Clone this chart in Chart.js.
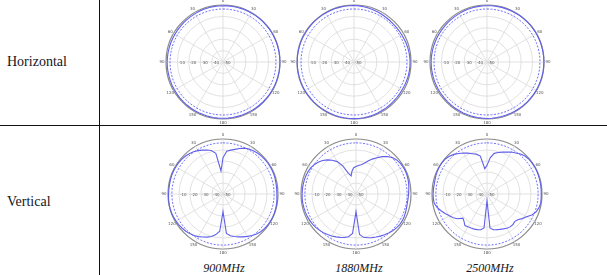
<!DOCTYPE html>
<html>
<head>
<meta charset="utf-8">
<script src="https://cdn.jsdelivr.net/npm/chart.js@4.4.1/dist/chart.umd.min.js"></script>
<style>
  html, body { margin: 0; padding: 0; background: #fff; }
  body { width: 607px; height: 275px; position: relative; overflow: hidden; font-family: "Liberation Serif", serif; }
  .vline { position: absolute; left: 99px; top: 0; width: 1px; height: 275px; background: #111; }
  .hline { position: absolute; left: 0; top: 125px; width: 607px; height: 1px; background: #111; }
  .row { position: absolute; left: 7px; font-size: 14px; color: #151520; line-height: 16px; }
  .freq { position: absolute; font-size: 12px; font-style: italic; color: #151520; line-height: 14px; transform: translateX(-50%); white-space: nowrap; }
  canvas { position: absolute; }
</style>
</head>
<body>
<div class="vline"></div>
<div class="hline"></div>
<div class="row" style="top:54px">Horizontal</div>
<div class="row" style="top:194px">Vertical</div>
<div class="freq" style="left:224px; top:261px">900MHz</div>
<div class="freq" style="left:359px; top:261px">1880MHz</div>
<div class="freq" style="left:490px; top:261px">2500MHz</div>

<canvas id="h900" width="130" height="130" style="left:158px; top:-3px"></canvas>
<canvas id="h1880" width="130" height="130" style="left:289px; top:-3px"></canvas>
<canvas id="h2500" width="130" height="130" style="left:422px; top:-3px"></canvas>
<canvas id="v900" width="126" height="126" style="left:160px; top:131px"></canvas>
<canvas id="v1880" width="126" height="126" style="left:293px; top:131px"></canvas>
<canvas id="v2500" width="126" height="126" style="left:424px; top:131px"></canvas>

<script>
// Angles (degrees, clockwise from top), 5 degree steps
const angles = ["0","5","10","15","20","25","30","35","40","45","50","55","60","65","70","75","80","85",
  "90","95","100","105","110","115","120","125","130","135","140","145","150","155","160","165","170","175",
  "180","185","190","195","200","205","210","215","220","225","230","235","240","245","250","255","260","265",
  "270","275","280","285","290","295","300","305","310","315","320","325","330","335","340","345","350","355"];

// Angle labels drawn every 30 degrees
const angleLabels = ["0","30","60","90","120","150","180","150","120","90","60","30"];
// Radial tick labels (dB)
const radialTicks = [-10, -20, -30, -40, -50];

// Reference (dashed) level in dB
const refLevel = [-3.5,-3.5,-3.5,-3.5,-3.5,-3.5,-3.5,-3.5,-3.5,-3.5,-3.5,-3.5,-3.5,-3.5,-3.5,-3.5,-3.5,-3.5,
  -3.5,-3.5,-3.5,-3.5,-3.5,-3.5,-3.5,-3.5,-3.5,-3.5,-3.5,-3.5,-3.5,-3.5,-3.5,-3.5,-3.5,-3.5,
  -3.5,-3.5,-3.5,-3.5,-3.5,-3.5,-3.5,-3.5,-3.5,-3.5,-3.5,-3.5,-3.5,-3.5,-3.5,-3.5,-3.5,-3.5,
  -3.5,-3.5,-3.5,-3.5,-3.5,-3.5,-3.5,-3.5,-3.5,-3.5,-3.5,-3.5,-3.5,-3.5,-3.5,-3.5,-3.5,-3.5];

// Horizontal-plane patterns (dB)
const h900 = [-0.6,-0.6,-0.5,-0.5,-0.4,-0.4,-0.3,-0.3,-0.2,-0.2,-0.2,-0.1,-0.1,-0.1,-0.1,-0.1,-0.1,-0.1,
  -0.1,-0.1,-0.1,-0.2,-0.2,-0.2,-0.3,-0.3,-0.4,-0.4,-0.5,-0.5,-0.5,-0.6,-0.6,-0.6,-0.6,-0.6,
  -0.6,-0.6,-0.6,-0.6,-0.7,-0.7,-0.7,-0.7,-0.7,-0.8,-0.8,-0.9,-0.9,-0.9,-1.0,-1.0,-1.0,-1.0,
  -1.0,-1.1,-1.1,-1.2,-1.2,-1.3,-1.3,-1.3,-1.3,-1.2,-1.2,-1.1,-1.0,-0.9,-0.8,-0.8,-0.7,-0.7];
const h1880 = [-0.5,-0.6,-0.8,-1.0,-1.2,-1.4,-1.6,-1.8,-1.9,-2.0,-2.0,-1.9,-1.8,-1.6,-1.4,-1.2,-1.0,-0.9,
  -0.8,-0.8,-0.8,-0.9,-1.0,-1.1,-1.2,-1.2,-1.2,-1.1,-1.0,-0.9,-0.8,-0.6,-0.5,-0.4,-0.3,-0.3,
  -0.3,-0.3,-0.3,-0.3,-0.3,-0.3,-0.3,-0.3,-0.3,-0.3,-0.3,-0.3,-0.2,-0.2,-0.2,-0.2,-0.2,-0.2,
  -0.2,-0.2,-0.2,-0.2,-0.2,-0.2,-0.3,-0.3,-0.3,-0.3,-0.3,-0.3,-0.3,-0.3,-0.3,-0.4,-0.4,-0.5];
const h2500 = [-0.6,-0.5,-0.5,-0.4,-0.4,-0.3,-0.3,-0.2,-0.2,-0.1,-0.1,-0.1,-0.1,-0.1,-0.1,-0.1,-0.1,-0.1,
  -0.1,-0.1,-0.1,-0.1,-0.2,-0.2,-0.2,-0.3,-0.3,-0.3,-0.4,-0.4,-0.4,-0.5,-0.5,-0.5,-0.5,-0.5,
  -0.5,-0.6,-0.6,-0.6,-0.7,-0.7,-0.8,-0.8,-0.9,-0.9,-1.0,-1.0,-1.0,-1.0,-1.0,-1.0,-1.0,-1.0,
  -1.0,-1.0,-1.1,-1.1,-1.2,-1.2,-1.3,-1.3,-1.3,-1.2,-1.2,-1.1,-1.0,-0.9,-0.8,-0.8,-0.7,-0.7];

// Vertical-plane patterns (dB)
const v900 = [-17,-11,-9.5,-8,-6,-4,-2.8,-2,-1.4,-1,-0.7,-0.5,-0.4,-0.4,-0.5,-0.7,-0.9,-1,
  -1,-0.8,-0.5,-0.3,-0.2,-0.2,-0.3,-0.5,-0.9,-1.5,-2.5,-4,-5.5,-7,-8.5,-10,-11.5,-14,
  -34,-16,-12.5,-10,-8.3,-6.8,-5.3,-4,-3,-2.2,-1.6,-1.1,-0.7,-0.4,-0.2,-0.1,-0.2,-0.3,
  -0.5,-0.6,-0.6,-0.5,-0.4,-0.4,-0.5,-0.7,-1,-1.5,-2.2,-3.2,-4.5,-6,-7.5,-9,-12.5,-29];
const v1880 = [-25,-24,-23,-21,-18,-15,-12,-8.5,-5.5,-3.2,-1.8,-1,-0.6,-0.5,-0.6,-0.9,-1.3,-1.8,
  -2.2,-2.5,-2.6,-2.4,-2,-1.6,-1.4,-1.5,-2,-2.8,-3.8,-4.8,-5.8,-6.8,-7.8,-8.8,-10,-13,
  -34,-14,-10.5,-9,-8,-7,-6,-5,-4,-3.2,-2.5,-2,-1.6,-1.3,-1.1,-1,-0.9,-0.9,
  -1,-1.1,-1.2,-1.3,-1.5,-1.9,-2.5,-3.5,-5,-7,-9.5,-12.5,-16,-22,-30,-33,-29,-26];
const v2500 = [-24,-17,-12.5,-11,-9.5,-8,-6,-4.5,-2.5,-1.2,-0.5,-0.3,-0.2,-0.2,-0.3,-0.4,-0.5,-0.6,
  -0.7,-0.6,-0.5,-1.2,-2.5,-5,-8.5,-11,-13.5,-14.5,-13.5,-13.5,-14,-15,-15.8,-16.5,-17,-19,
  -44,-19,-17,-16.5,-16,-15.8,-15.5,-15,-17.5,-19,-15,-12.5,-10.5,-8,-5.5,-3,-1.3,-1,
  -1,-1.1,-1.2,-1,-0.6,-0.3,-0.1,-0.2,-0.5,-1.5,-3,-5,-7,-9,-11,-12.5,-15,-27];

const polarText = {
  id: 'polarText',
  beforeDatasetsDraw(chart) {
    const s = chart.scales.r, ctx = chart.ctx;
    ctx.save();
    ctx.font = '4px "DejaVu Sans"';
    ctx.fillStyle = '#555';
    ctx.textAlign = 'center';
    ctx.textBaseline = 'middle';
    angleLabels.forEach((t, k) => {
      const p = s.getPointPosition(k * 6, s.drawingArea + 4);
      ctx.fillText(t, p.x, p.y);
    });
    ctx.textAlign = 'left';
    radialTicks.forEach(v => {
      const d = s.getDistanceFromCenterForValue(v);
      ctx.fillText(String(v), s.xCenter - d + 1, s.yCenter + 0.5);
    });
    ctx.restore();
  }
};

function makeChart(id, values) {
  new Chart(document.getElementById(id), {
    type: 'radar',
    data: {
      labels: angles,
      datasets: [
        { data: values, borderColor: '#6060ea', borderWidth: 1.1, pointRadius: 0, fill: false, tension: 0 },
        { data: refLevel, borderColor: '#4a4aff', borderWidth: 0.8, borderDash: [2, 1.5], pointRadius: 0, fill: false, tension: 0 }
      ]
    },
    options: {
      responsive: false,
      animation: false,
      devicePixelRatio: 1,
      layout: { padding: 8 },
      plugins: { legend: { display: false }, tooltip: { enabled: false } },
      scales: {
        r: {
          min: -50, max: 0,
          ticks: { display: false, stepSize: 10 },
          pointLabels: { display: false },
          grid: {
            circular: true,
            color: c => (c.tick && c.tick.value === 0) ? '#8a8a8a' : '#d9d9d9',
            lineWidth: c => (c.tick && c.tick.value === 0) ? 1.2 : 0.8
          },
          angleLines: {
            color: '#d9d9d9',
            lineWidth: c => (c.index % 6 === 0) ? 0.8 : 0
          }
        }
      }
    },
    plugins: [polarText]
  });
}

makeChart('h900', h900);
makeChart('h1880', h1880);
makeChart('h2500', h2500);
makeChart('v900', v900);
makeChart('v1880', v1880);
makeChart('v2500', v2500);
</script>
</body>
</html>
